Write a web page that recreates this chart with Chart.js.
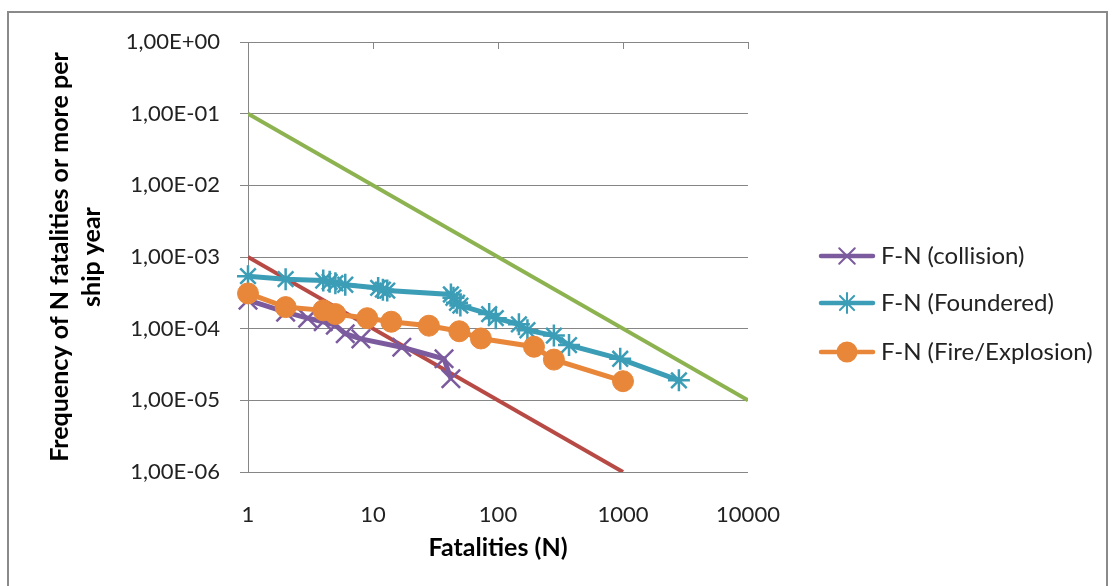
<!DOCTYPE html>
<html>
<head>
<meta charset="utf-8">
<script src="https://cdn.jsdelivr.net/npm/chart.js@4.4.1/dist/chart.umd.min.js"></script>
<style>
html, body { margin: 0; padding: 0; background: #fff; }
#wrap { position: relative; width: 1115px; height: 586px; }
</style>
</head>
<body>
<div id="wrap"><canvas id="chartFN" width="1115" height="586"></canvas></div>
<script>
// F-N curves, values
var collisionN = [1, 2, 3, 4, 5, 6, 8, 17, 37, 42];
var collisionF = [2.5e-4, 1.7e-4, 1.4e-4, 1.25e-4, 1.12e-4, 8.5e-5, 7.2e-5, 5.5e-5, 3.8e-5, 2.0e-5];

var founderedN = [1, 2, 4, 4.5, 5, 6, 11, 12, 13, 42, 44, 47, 50, 85, 96, 147, 172, 280, 370, 950, 2800];
var founderedF = [5.4e-4, 4.9e-4, 4.7e-4, 4.5e-4, 4.3e-4, 4.1e-4, 3.7e-4, 3.5e-4, 3.4e-4, 3.0e-4, 2.7e-4, 2.3e-4, 2.1e-4, 1.6e-4, 1.4e-4, 1.15e-4, 9.5e-5, 8.0e-5, 5.9e-5, 3.8e-5, 1.9e-5];

var fireN = [1, 2, 4, 5, 9, 14, 28, 49, 73, 194, 280, 1000];
var fireF = [3.1e-4, 2.0e-4, 1.8e-4, 1.6e-4, 1.4e-4, 1.25e-4, 1.1e-4, 9.2e-5, 7.3e-5, 5.6e-5, 3.7e-5, 1.85e-5];

// criterion lines (upper / lower)
var upperN = [1, 10000];
var upperF = [1e-1, 1e-5];
var lowerN = [1, 1000];
var lowerF = [1e-3, 1e-6];

var xTickValues = [1, 10, 100, 1000, 10000];
var yTickValues = [1e-6, 1e-5, 1e-4, 1e-3, 1e-2, 1e-1, 1];

var seriesLabels = ['F-N (collision)', 'F-N (Foundered)', 'F-N (Fire/Explosion)'];

var gridColor = '#868686';
var textColor = '#222222';
var fontName = 'Lato, "Open Sans", sans-serif';

function toPoints(xs, ys) {
    var pts = [];
    for (var i = 0; i < xs.length; i++) {
        pts.push({ x: xs[i], y: ys[i] });
    }
    return pts;
}

function sciLabel(v) {
    var e = Math.round(Math.log10(v));
    var s = Math.abs(e) < 10 ? '0' + Math.abs(e) : '' + Math.abs(e);
    return '1,00E' + (e < 0 ? '-' : '+') + s;
}

var outerBorder = {
    id: 'outerBorder',
    beforeDraw: function (chart) {
        var ctx = chart.ctx;
        ctx.save();
        ctx.fillStyle = '#ffffff';
        ctx.fillRect(0, 0, chart.width, chart.height);
        ctx.strokeStyle = '#8a8a8a';
        ctx.lineWidth = 2;
        ctx.strokeRect(8, 12, 1099, 600);
        ctx.restore();
    }
};

// Excel draws the x axis where y = 1, ticks pointing down into the plot
var topTicks = {
    id: 'topTicks',
    beforeDatasetsDraw: function (chart) {
        var ctx = chart.ctx;
        var area = chart.chartArea;
        var x = chart.scales.x;
        ctx.save();
        ctx.strokeStyle = gridColor;
        ctx.lineWidth = 1;
        xTickValues.forEach(function (v) {
            var px = Math.round(x.getPixelForValue(v)) + 0.5;
            ctx.beginPath();
            ctx.moveTo(px, area.top);
            ctx.lineTo(px, area.top + 7);
            ctx.stroke();
        });
        ctx.restore();
    }
};

// legend with line + marker like the original
var lineLegend = {
    id: 'lineLegend',
    afterDraw: function (chart) {
        var ctx = chart.ctx;
        var rows = [256, 303, 352];
        ctx.save();
        for (var i = 0; i < 3; i++) {
            var ds = chart.data.datasets[i];
            var y = rows[i];
            ctx.strokeStyle = ds.borderColor;
            ctx.lineWidth = 4.5;
            ctx.lineCap = 'round';
            ctx.beginPath();
            ctx.moveTo(821, y);
            ctx.lineTo(873, y);
            ctx.stroke();
            ctx.fillStyle = ds.pointBackgroundColor;
            ctx.strokeStyle = ds.pointBorderColor;
            ctx.lineWidth = 2;
            Chart.helpers.drawPoint(ctx, {
                pointStyle: ds.pointStyle,
                radius: ds.legendRadius,
                rotation: 0,
                borderWidth: 2
            }, 847, y);
            ctx.fillStyle = textColor;
            ctx.font = '24px ' + fontName;
            ctx.textBaseline = 'middle';
            ctx.textAlign = 'left';
            ctx.fillText(ds.label, 881, y);
        }
        ctx.restore();
    }
};

var ctx = document.getElementById('chartFN');
var chart = new Chart(ctx, {
    type: 'scatter',
    data: {
        datasets: [{
            label: seriesLabels[0],
            data: toPoints(collisionN, collisionF),
            showLine: true,
            borderColor: '#7b5b9e',
            borderWidth: 5,
            pointStyle: 'crossRot',
            pointRadius: 13,
            pointBorderWidth: 2.5,
            pointBorderColor: '#7b5b9e',
            pointBackgroundColor: '#7b5b9e',
            legendRadius: 11,
            order: 3,
            clip: false
        }, {
            label: seriesLabels[1],
            data: toPoints(founderedN, founderedF),
            showLine: true,
            borderColor: '#3c9db7',
            borderWidth: 5,
            pointStyle: 'star',
            pointRadius: 11,
            pointBorderWidth: 2.5,
            pointBorderColor: '#3c9db7',
            pointBackgroundColor: '#3c9db7',
            legendRadius: 10,
            order: 2,
            clip: false
        }, {
            label: seriesLabels[2],
            data: toPoints(fireN, fireF),
            showLine: true,
            borderColor: '#e8873a',
            borderWidth: 5,
            pointStyle: 'circle',
            pointRadius: 10.5,
            pointBorderWidth: 1,
            pointBorderColor: '#e8873a',
            pointBackgroundColor: '#e8873a',
            legendRadius: 9.5,
            order: 1,
            clip: false
        }, {
            label: '',
            data: toPoints(lowerN, lowerF),
            showLine: true,
            borderColor: '#b84a45',
            borderWidth: 4,
            pointRadius: 0,
            order: 4
        }, {
            label: '',
            data: toPoints(upperN, upperF),
            showLine: true,
            borderColor: '#8db350',
            borderWidth: 4,
            pointRadius: 0,
            order: 5
        }]
    },
    options: {
        responsive: false,
        animation: false,
        layout: { padding: { top: 42, right: 367, bottom: 0, left: 0 } },
        plugins: {
            legend: { display: false },
            tooltip: { enabled: false }
        },
        scales: {
            x: {
                type: 'logarithmic',
                position: 'bottom',
                min: 1,
                max: 10000,
                afterBuildTicks: function (scale) {
                    scale.ticks = xTickValues.map(function (v) { return { value: v }; });
                },
                afterFit: function (scale) { scale.height = 114; },
                grid: { display: false },
                border: { display: false },
                ticks: {
                    color: textColor,
                    font: { family: fontName, size: 22 },
                    padding: 22,
                    maxRotation: 0,
                    callback: function (v) { return String(v); }
                },
                title: {
                    display: true,
                    text: 'Fatalities (N)',
                    color: '#000',
                    font: { family: fontName, size: 25, weight: 'bold' },
                    padding: { top: 0, bottom: 23 }
                }
            },
            y: {
                type: 'logarithmic',
                min: 1e-6,
                max: 1,
                afterBuildTicks: function (scale) {
                    scale.ticks = yTickValues.map(function (v) { return { value: v }; });
                },
                afterFit: function (scale) { scale.width = 248; },
                grid: { color: gridColor, lineWidth: 1, tickLength: 8, drawTicks: true },
                border: { display: true, color: gridColor, width: 1 },
                ticks: {
                    color: textColor,
                    font: { family: fontName, size: 22 },
                    padding: 20,
                    callback: function (v) { return sciLabel(v); }
                },
                title: {
                    display: true,
                    text: ['Frequency of N fatalities or more per', 'ship year'],
                    color: '#000',
                    font: { family: fontName, size: 25, weight: 'bold', lineHeight: 1.28 },
                    padding: { top: 44, bottom: 0 }
                }
            }
        }
    },
    plugins: [outerBorder, topTicks, lineLegend]
});
</script>
</body>
</html>
